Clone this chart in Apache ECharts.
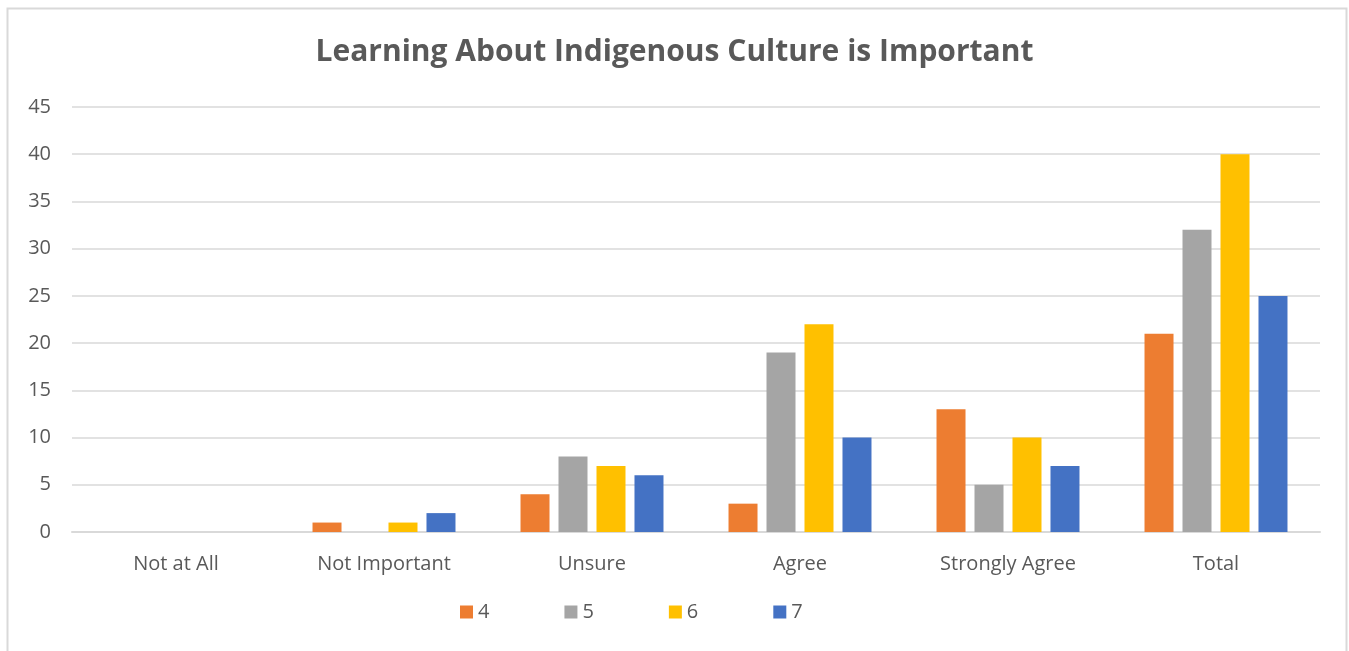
<!DOCTYPE html>
<html><head><meta charset="utf-8">
<script src="https://cdn.jsdelivr.net/npm/echarts@6/dist/echarts.min.js"></script>
<style>html,body{margin:0;padding:0;background:#fff}#c{width:1349px;height:651px}</style>
</head><body><div id="c"></div>
<script>
const categories = ['Not at All','Not Important','Unsure','Agree','Strongly Agree','Total'];
const seriesNames = ['4','5','6','7'];
const s4 = [0,1,4,3,13,21];
const s5 = [0,0,8,19,5,32];
const s6 = [0,1,7,22,10,40];
const s7 = [0,2,6,10,7,25];
const colors = ['#ED7D31','#A5A5A5','#FFC000','#4472C4'];
const values = [s4,s5,s6,s7];
const chart = echarts.init(document.getElementById('c'));
const font = '"Open Sans", "Noto Sans", sans-serif';
chart.setOption({
  animation:false,
  textStyle:{fontFamily:font},
  graphic:[{type:'rect',shape:{x:7.5,y:8.5,width:1339,height:700},style:{fill:'none',stroke:'#d9d9d9',lineWidth:2},silent:true}],
  title:{text:'Learning About Indigenous Culture is Important',left:'center',top:32,
    textStyle:{fontFamily:font,fontSize:30,fontWeight:'bold',color:'#595959'}},
  legend:{data:seriesNames,bottom:24,left:455,itemWidth:13,itemHeight:13,itemGap:75,icon:'rect',
    textStyle:{fontFamily:font,fontSize:20,color:'#595959'}},
  grid:{left:72,right:29,top:107,bottom:119,containLabel:false},
  xAxis:{type:'category',data:categories,
    axisLine:{lineStyle:{color:'#d9d9d9',width:2}},axisTick:{show:false},
    axisLabel:{fontFamily:font,fontSize:20,color:'#595959',margin:22}},
  yAxis:{type:'value',min:0,max:45,interval:5,
    axisLine:{show:false},axisTick:{show:false},
    splitLine:{lineStyle:{color:'#d9d9d9',width:1.5}},
    axisLabel:{fontFamily:font,fontSize:20,color:'#595959',margin:21}},
  series:values.map((v,i)=>({name:seriesNames[i],type:'bar',data:v,barWidth:29,barGap:'31%',
    itemStyle:{color:colors[i]}}))
});
</script></body></html>
